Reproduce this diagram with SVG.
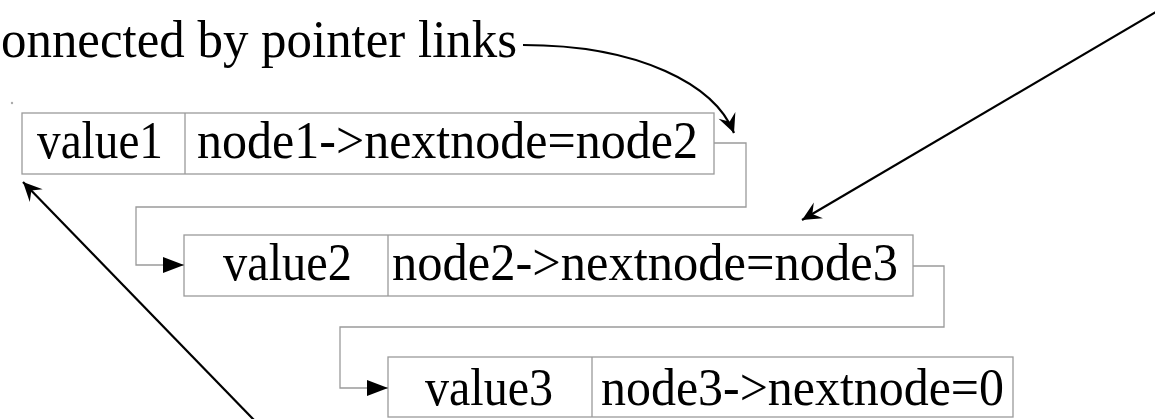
<svg xmlns="http://www.w3.org/2000/svg" width="1155" height="419" viewBox="0 0 1155 419">
<defs>
<style>
.box{fill:#fff;stroke:#9a9a9a;stroke-width:1.3}
.div{stroke:#9a9a9a;stroke-width:1.3}
.link{fill:none;stroke:#9a9a9a;stroke-width:1.3}
.ptr{fill:none;stroke:#000;stroke-width:2.2}
text{font-family:"Liberation Serif","Times New Roman",serif;font-size:53px;fill:#000}
</style>
<marker id="tri" viewBox="-22 -9 24 18" refX="0" refY="0" markerWidth="24" markerHeight="18" markerUnits="userSpaceOnUse" orient="auto">
<path d="M0,0 L-21,-8 L-21,8 Z" fill="#000"/>
</marker>
<marker id="stealth" viewBox="-20 -10 22 20" refX="0" refY="0" markerWidth="22" markerHeight="20" markerUnits="userSpaceOnUse" orient="auto">
<path d="M0,0 L-19,-9 L-12,0 L-19,9 Z" fill="#000"/>
</marker>
</defs>
<rect width="1155" height="419" fill="#fff"/>
<circle cx="12" cy="103" r="1.2" fill="#aaa"/>
<g id="title">
<text x="1" y="57" textLength="516" lengthAdjust="spacingAndGlyphs">onnected by pointer links</text>
</g>
<g id="node1">
<rect class="box" x="22" y="113" width="692" height="61"/>
<line class="div" x1="185" y1="113" x2="185" y2="174"/>
<text x="37" y="158" textLength="126" lengthAdjust="spacingAndGlyphs">value1</text>
<text x="197" y="158" textLength="501" lengthAdjust="spacingAndGlyphs">node1-&gt;nextnode=node2</text>
</g>
<g id="node2">
<rect class="box" x="184" y="235" width="729" height="61"/>
<line class="div" x1="388" y1="235" x2="388" y2="296"/>
<text x="223" y="280" textLength="129" lengthAdjust="spacingAndGlyphs">value2</text>
<text x="392" y="280" textLength="506" lengthAdjust="spacingAndGlyphs">node2-&gt;nextnode=node3</text>
</g>
<g id="node3">
<rect class="box" x="388" y="357" width="625" height="60"/>
<line class="div" x1="592" y1="357" x2="592" y2="417"/>
<text x="425" y="405" textLength="128" lengthAdjust="spacingAndGlyphs">value3</text>
<text x="601" y="405" textLength="403" lengthAdjust="spacingAndGlyphs">node3-&gt;nextnode=0</text>
</g>
<g id="connectors">
<path class="link" d="M714,143 H746 V207 H136 V265 H184" marker-end="url(#tri)"/>
<path class="link" d="M913,266 H944 V327 H340 V388 H388" marker-end="url(#tri)"/>
<path class="ptr" d="M523,45 C640,45 715,85 734,133" marker-end="url(#stealth)"/>
<line class="ptr" x1="1156" y1="12" x2="802" y2="220" marker-end="url(#stealth)"/>
<line class="ptr" x1="254" y1="420" x2="23" y2="182" marker-end="url(#stealth)"/>
</g>
</svg>
